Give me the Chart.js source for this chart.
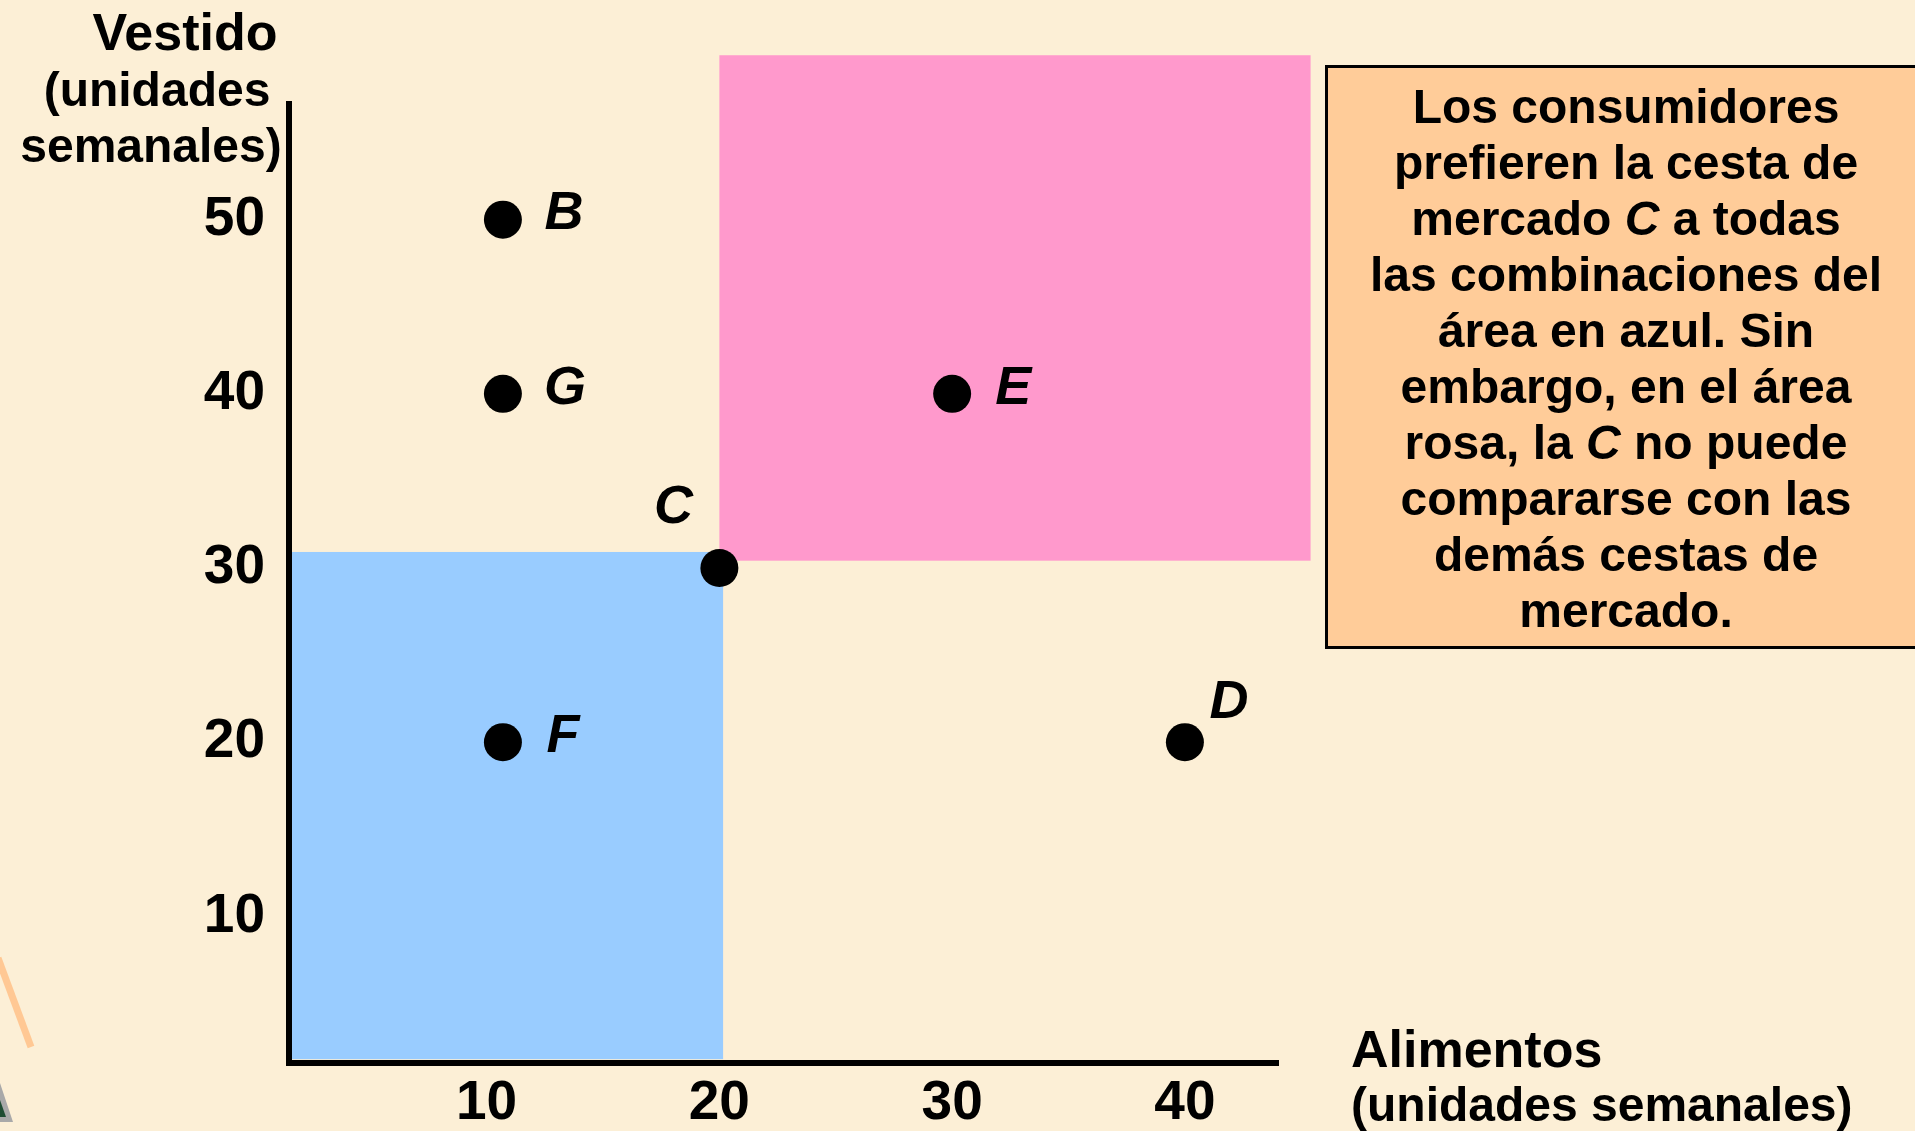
<!DOCTYPE html>
<html lang="es">
<head>
<meta charset="utf-8">
<title>Preferencias del consumidor</title>
<script src="https://cdn.jsdelivr.net/npm/chart.js@4.4.0/dist/chart.umd.min.js"></script>
<style>
  html, body { margin: 0; padding: 0; background: #fcefd6; }
  #wrap { width: 1915px; height: 1131px; }
</style>
</head>
<body>
<div id="wrap"><canvas id="chart" width="1915" height="1131"></canvas></div>
<script>
// Market baskets (food, clothing)
const POINT_LABELS = ['B', 'G', 'F', 'C', 'E', 'D'];
const FOOD = [10.7, 10.7, 10.7, 20, 30, 40];
const CLOTHING = [50, 40, 20, 30, 40, 20];

const X_TICKS = [10, 20, 30, 40];
const Y_TICKS = [10, 20, 30, 40, 50];

// shaded areas, in data units
const BLUE_X = [1.64, 20.16];
const BLUE_Y = [1.8, 30.92];
const PINK_X = [20, 45.4];
const PINK_Y = [30.42, 59.44];

// note text: [text, italic]
const NOTE_LINES = [
  [['Los consumidores', false]],
  [['prefieren la cesta de', false]],
  [['mercado ', false], ['C', true], [' a todas', false]],
  [['las combinaciones del', false]],
  [['área en azul. Sin', false]],
  [['embargo, en el área', false]],
  [['rosa, la ', false], ['C', true], [' no puede', false]],
  [['compararse con las', false]],
  [['demás cestas de', false]],
  [['mercado.', false]]
];

const FONT = "'Liberation Sans', Arial, Helvetica, sans-serif";

const backdrop = {
  id: 'backdrop',
  beforeDraw(chart) {
    const { ctx, scales: { x, y } } = chart;
    ctx.save();
    ctx.fillStyle = '#fcefd6';
    ctx.fillRect(0, 0, chart.width, chart.height);

    // leftover slide decoration bottom-left
    ctx.strokeStyle = '#ffc894';
    ctx.lineWidth = 7;
    ctx.beginPath();
    ctx.moveTo(-2, 958);
    ctx.lineTo(31, 1047);
    ctx.stroke();
    ctx.fillStyle = '#a9a9a9';
    ctx.beginPath();
    ctx.moveTo(0, 1083); ctx.lineTo(13, 1122); ctx.lineTo(0, 1122);
    ctx.fill();
    ctx.fillStyle = '#1f4d33';
    ctx.beginPath();
    ctx.moveTo(0, 1100); ctx.lineTo(6, 1117); ctx.lineTo(0, 1117);
    ctx.fill();

    const rect = (xs, ys, color) => {
      const l = x.getPixelForValue(xs[0]), r = x.getPixelForValue(xs[1]);
      const t = y.getPixelForValue(ys[1]), b = y.getPixelForValue(ys[0]);
      ctx.fillStyle = color;
      ctx.fillRect(l, t, r - l, b - t);
    };
    rect(BLUE_X, BLUE_Y, '#99ccff');
    rect(PINK_X, PINK_Y, '#ff99cc');
    ctx.restore();
  }
};

const annotations = {
  id: 'annotations',
  afterDatasetsDraw(chart) {
    const { ctx } = chart;
    const meta = chart.getDatasetMeta(0);
    const offsets = { B: [61, -6], G: [62, -5], F: [60, -5], C: [-46, -60], E: [61, -5], D: [44, -39] };
    ctx.save();
    ctx.fillStyle = '#000';
    ctx.font = `italic bold 54px ${FONT}`;
    ctx.textAlign = 'center';
    ctx.textBaseline = 'middle';
    meta.data.forEach((pt, i) => {
      const lab = POINT_LABELS[i];
      const o = offsets[lab];
      ctx.fillText(lab, pt.x + o[0], pt.y + o[1]);
    });
    ctx.restore();
  },
  afterDraw(chart) {
    const { ctx } = chart;
    ctx.save();
    ctx.fillStyle = '#000';

    // axis titles
    ctx.textAlign = 'center';
    ctx.textBaseline = 'alphabetic';
    ctx.font = `bold 52px ${FONT}`;
    ctx.fillText('Vestido', 185, 50);
    ctx.font = `bold 48px ${FONT}`;
    ctx.fillText('(unidades', 157, 106);
    ctx.fillText('semanales)', 151, 162);

    ctx.textAlign = 'left';
    ctx.font = `bold 52px ${FONT}`;
    ctx.fillText('Alimentos', 1351, 1067);
    ctx.font = `bold 48px ${FONT}`;
    ctx.fillText('(unidades semanales)', 1351, 1121);

    // note box
    ctx.fillStyle = '#ffcc99';
    ctx.fillRect(1326, 66, 600, 581);
    ctx.strokeStyle = '#000';
    ctx.lineWidth = 3;
    ctx.strokeRect(1326.5, 66.5, 600, 581);

    ctx.fillStyle = '#000';
    ctx.textBaseline = 'middle';
    ctx.textAlign = 'left';
    const cx = 1626;
    NOTE_LINES.forEach((segs, i) => {
      const fontOf = it => `${it ? 'italic ' : ''}bold 48px ${FONT}`;
      let w = 0;
      segs.forEach(([t, it]) => { ctx.font = fontOf(it); w += ctx.measureText(t).width; });
      let px = cx - w / 2;
      const py = 110 + i * 56;
      segs.forEach(([t, it]) => {
        ctx.font = fontOf(it);
        ctx.fillText(t, px, py);
        px += ctx.measureText(t).width;
      });
    });
    ctx.restore();
  }
};

const tickFont = { family: FONT, size: 55, weight: 'bold' };

new Chart(document.getElementById('chart'), {
  type: 'scatter',
  data: {
    datasets: [{
      data: FOOD.map((v, i) => ({ x: v, y: CLOTHING[i] })),
      backgroundColor: '#000',
      borderWidth: 0,
      pointRadius: 19,
      pointHoverRadius: 19
    }]
  },
  options: {
    responsive: false,
    animation: false,
    events: [],
    layout: { padding: { left: 0, top: 104, right: 637, bottom: 0 } },
    plugins: { legend: { display: false }, tooltip: { enabled: false } },
    scales: {
      x: {
        type: 'linear',
        min: 1.51,
        max: 44.0,
        afterBuildTicks: s => { s.ticks = X_TICKS.map(v => ({ value: v })); },
        afterFit: s => { s.height = 68; },
        grid: { color: 'transparent', drawOnChartArea: false, drawTicks: false },
        border: { display: true, color: '#000', width: 6 },
        ticks: { color: '#000', font: tickFont, padding: 8, maxRotation: 0, autoSkip: false }
      },
      y: {
        type: 'linear',
        min: 1.58,
        max: 56.64,
        afterBuildTicks: s => { s.ticks = Y_TICKS.map(v => ({ value: v })); },
        afterFit: s => { s.width = 289; },
        grid: { color: 'transparent', drawOnChartArea: false, drawTicks: false },
        border: { display: true, color: '#000', width: 6 },
        ticks: { color: '#000', font: tickFont, padding: 24, autoSkip: false }
      }
    }
  },
  plugins: [backdrop, annotations]
});
</script>
</body>
</html>
